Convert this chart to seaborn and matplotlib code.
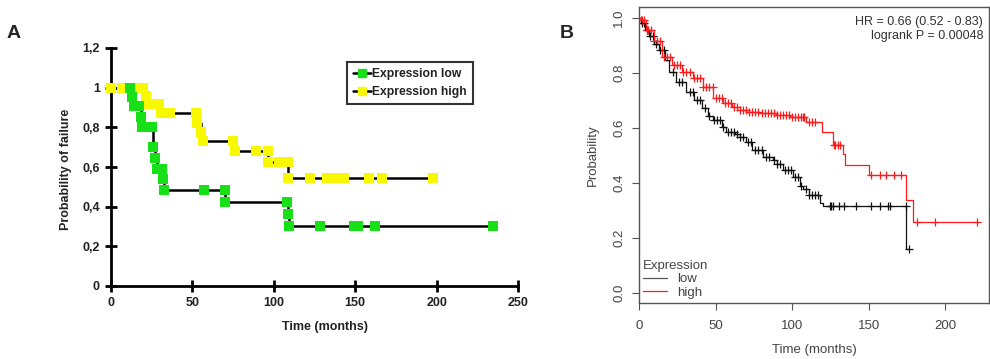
import numpy as np
import pandas as pd
import matplotlib
matplotlib.use("Agg")
import matplotlib.pyplot as plt
from matplotlib.lines import Line2D
import seaborn as sns

sns.set_theme(style="white")
plt.rcParams['font.family'] = ['Liberation Sans', 'DejaVu Sans']

# ---------------- Panel A data (probability of failure) ----------------
a_low_time = [11.7, 13.1, 14.3, 17.4, 18.4, 19.0, 25.4, 25.6, 26.8, 28.1, 31.1, 31.7, 32.8,
              57.3, 69.8, 70.2, 108.3, 108.7, 109.5, 128.4, 149.3, 152.0, 162.4, 234.8]
a_low_prob = [1.0, 0.955, 0.908, 0.908, 0.854, 0.80, 0.80, 0.70, 0.645, 0.59, 0.59, 0.538, 0.484,
              0.484, 0.484, 0.424, 0.424, 0.363, 0.303, 0.303, 0.303, 0.303, 0.303, 0.303]
a_high_time = [0, 6.6, 17.4, 19.5, 21.5, 22.9, 26.0, 29.7, 30.5, 36.2, 52.0, 52.6, 55.3, 56.3,
               75.1, 76.2, 88.9, 96.2, 96.2, 103.4, 108.5, 108.5, 122.2, 132.5, 139.0, 143.3,
               158.3, 166.3, 198.0]
a_high_prob = [1.0, 1.0, 1.0, 1.0, 0.96, 0.92, 0.92, 0.92, 0.874, 0.874, 0.874, 0.824, 0.777, 0.73,
               0.73, 0.679, 0.679, 0.679, 0.625, 0.625, 0.625, 0.545, 0.545, 0.545, 0.545, 0.545,
               0.545, 0.545, 0.545]
a_xticks = [0, 50, 100, 150, 200, 250]
a_yticks = [0, 0.2, 0.4, 0.6, 0.8, 1.0, 1.2]
a_yticklabels = ["0", "0,2", "0,4", "0,6", "0,8", "1", "1,2"]
a_labels = ["Expression low", "Expression high"]

# ---------------- Panel B data (KM survival) ----------------
b_low_time = [0, 1, 4, 6.5, 10, 13, 17, 19.6, 24, 30.5, 36, 41, 45, 48, 54, 57, 63, 66, 70, 74,
              81, 87.5, 90, 94, 100.5, 105, 107, 111, 118, 120, 174.5, 176.2]
b_low_surv = [1.0, 0.982, 0.955, 0.933, 0.905, 0.884, 0.848, 0.805, 0.769, 0.732, 0.702, 0.672,
              0.645, 0.629, 0.605, 0.587, 0.577, 0.566, 0.551, 0.52, 0.496, 0.484, 0.47, 0.447,
              0.423, 0.39, 0.38, 0.356, 0.326, 0.316, 0.159, 0.159]
b_high_time = [0, 1, 4.4, 9.8, 15.3, 21.8, 28.3, 35, 41.6, 48.1, 54.6, 61, 65.7, 72, 79, 89.6,
               98.4, 109.2, 119.7, 126.6, 133.2, 134.6, 150.1, 174.5, 178.9, 220.9]
b_high_surv = [1.0, 0.994, 0.957, 0.915, 0.86, 0.83, 0.805, 0.781, 0.75, 0.71, 0.69, 0.675, 0.666,
               0.66, 0.656, 0.648, 0.639, 0.623, 0.587, 0.538, 0.505, 0.465, 0.429, 0.340, 0.259,
               0.259]
b_low_cens = [2, 3, 5, 7, 9, 11, 14, 16, 22, 26, 28, 33, 35, 38, 40, 43, 46, 49, 51, 53, 55, 58,
              60, 62, 64, 66, 68, 71, 73, 76, 78, 80, 83, 85, 88, 90, 92, 95, 97, 99, 102, 104,
              106, 109, 111, 113, 115, 117, 124.5, 125.6, 126.6, 130.6, 133.8, 141.4, 151.7,
              157.1, 162.5, 164, 174.3, 176.2]
b_high_cens = [1, 2, 3, 5, 6, 8, 10, 12, 14, 16, 18, 20, 23, 25, 27, 29, 31, 33, 36, 38, 40, 42,
               44, 46, 48, 50, 52, 54, 56, 58, 60, 62, 64, 66, 68, 70, 72, 74, 76, 78, 80, 82, 84,
               86, 88, 90, 92, 94, 96, 98, 100, 102, 104, 106, 107, 108, 111, 113, 115, 127, 128,
               130, 131, 151.7, 157.1, 161.5, 166.4, 171.3, 181.7, 193, 220.9]
b_xticks = [0, 50, 100, 150, 200]
b_yticks = [0.0, 0.2, 0.4, 0.6, 0.8, 1.0]
b_labels = ["low", "high"]
b_stats = ["HR = 0.66 (0.52 - 0.83)", "logrank P = 0.00048"]

GREEN = "#18e018"
YELLOW = "#f8f800"
B_RED = "#ff1a1a"
B_BLACK = "#111111"
GREY = "#555555"

W, H = 990, 359
fig = plt.figure(figsize=(W / 100, H / 100), dpi=100)

# ================= Panel A =================
axA = fig.add_axes([111 / W, (H - 286) / H, 407 / W, 238 / H])
dfl = pd.DataFrame({"t": a_low_time, "p": a_low_prob})
dfh = pd.DataFrame({"t": a_high_time, "p": a_high_prob})
for df, col in [(dfh, YELLOW), (dfl, GREEN)]:
    sns.lineplot(data=df, x="t", y="p", ax=axA, estimator=None, sort=False,
                 drawstyle="steps-post", color="black", linewidth=1.8, zorder=2)
    sns.scatterplot(data=df, x="t", y="p", ax=axA, marker="s", s=42, color=col,
                    edgecolor=col, linewidth=0, zorder=3, clip_on=False)
axA.set_xlim(0, 250)
axA.set_ylim(0, 1.2)
axA.set_xticks(a_xticks)
axA.set_yticks(a_yticks)
axA.set_yticklabels(a_yticklabels)
for s in ["top", "right"]:
    axA.spines[s].set_visible(False)
for s in ["left", "bottom"]:
    axA.spines[s].set_linewidth(2)
    axA.spines[s].set_color("black")
axA.tick_params(direction="inout", length=8, width=2, colors="black", labelsize=9,
                left=True, bottom=True)
axA.tick_params(axis="x", pad=4)
axA.tick_params(axis="y", pad=4)
for lab in axA.get_xticklabels() + axA.get_yticklabels():
    lab.set_fontweight("bold")
    lab.set_color("#222222")
axA.set_xlabel("Time (months)", fontsize=9, fontweight="bold", color="#222222")
axA.set_ylabel("Probability of failure", fontsize=9, fontweight="bold", color="#222222")
axA.xaxis.set_label_coords(0.527, -0.145)
axA.yaxis.set_label_coords(-0.097, 0.49)
handles = [Line2D([0], [0], color="black", lw=1.8, marker="s", markersize=6,
                  markerfacecolor=GREEN, markeredgecolor=GREEN),
           Line2D([0], [0], color="black", lw=1.8, marker="s", markersize=6,
                  markerfacecolor=YELLOW, markeredgecolor=YELLOW)]
leg = axA.legend(handles, a_labels, loc="upper left",
                 bbox_to_anchor=((347 - 111) / 407, (286 - 62) / 238),
                 prop={"weight": "bold", "size": 8.7}, frameon=True, fancybox=False,
                 handlelength=1.5, handletextpad=0.1, labelspacing=0.5,
                 borderpad=0.5, borderaxespad=0)
leg.get_frame().set_edgecolor("black")
leg.get_frame().set_linewidth(1.5)
for t in leg.get_texts():
    t.set_color("#222222")

fig.text(14 / W, 1 - 34 / H, "A", fontsize=14, fontweight="bold", ha="center", va="center")
fig.text(567 / W, 1 - 33 / H, "B", fontsize=14, fontweight="bold", ha="center", va="center")

# ================= Panel B =================
axB = fig.add_axes([639 / W, (H - 303) / H, 350 / W, 296 / H])
dbl = pd.DataFrame({"t": b_low_time, "s": b_low_surv})
dbh = pd.DataFrame({"t": b_high_time, "s": b_high_surv})
sns.lineplot(data=dbl, x="t", y="s", ax=axB, estimator=None, sort=False,
             drawstyle="steps-post", color=B_BLACK, linewidth=0.9)
sns.lineplot(data=dbh, x="t", y="s", ax=axB, estimator=None, sort=False,
             drawstyle="steps-post", color=B_RED, linewidth=0.9)


def step_lookup(times, survs, pts):
    idx = np.searchsorted(np.asarray(times), np.asarray(pts), side="right") - 1
    return np.asarray(survs)[idx]


cl = pd.DataFrame({"t": b_low_cens, "s": step_lookup(b_low_time, b_low_surv, b_low_cens)})
ch = pd.DataFrame({"t": b_high_cens, "s": step_lookup(b_high_time, b_high_surv, b_high_cens)})
sns.scatterplot(data=cl, x="t", y="s", ax=axB, marker="+", s=26, color=B_BLACK, linewidth=0.9)
sns.scatterplot(data=ch, x="t", y="s", ax=axB, marker="+", s=26, color=B_RED, linewidth=0.9)

axB.set_xlim(0, 228.5)
axB.set_ylim(-0.036, 1.04)
axB.set_xticks(b_xticks)
axB.set_yticks(b_yticks)
axB.set_yticklabels([f"{v:.1f}" for v in b_yticks], rotation=90, va="center")
for s in axB.spines.values():
    s.set_color(GREY)
    s.set_linewidth(1.0)
axB.tick_params(direction="out", length=5, width=0.8, colors=GREY, labelsize=9.5,
                left=True, bottom=True, labelcolor="#444444")
axB.tick_params(axis="x", pad=7)
axB.tick_params(axis="y", pad=5)
axB.set_xlabel("Time (months)", fontsize=9.5, color="#444444")
axB.set_ylabel("Probability", fontsize=9.5, color="#444444")
axB.xaxis.set_label_coords(0.5, -0.138)
axB.yaxis.set_label_coords(-0.115, 0.5)

axB.text(0.983, 0.97, b_stats[0] + "\n" + b_stats[1], transform=axB.transAxes,
         ha="right", va="top", fontsize=9, color="#333333", linespacing=1.2)

lh = [Line2D([0], [0], color="#555555", lw=0.9), Line2D([0], [0], color=B_RED, lw=0.9)]
legB = axB.legend(lh, b_labels, title="Expression", loc="lower left",
                  bbox_to_anchor=(0.0, 0.0), frameon=False, fontsize=9.5,
                  title_fontsize=9.5, handlelength=1.8, handletextpad=0.8,
                  labelspacing=0.1, borderpad=0.2, borderaxespad=0.1)
legB._legend_box.align = "left"
legB.get_title().set_color("#444444")
for t in legB.get_texts():
    t.set_color("#444444")

fig.savefig("out.png", dpi=100)
